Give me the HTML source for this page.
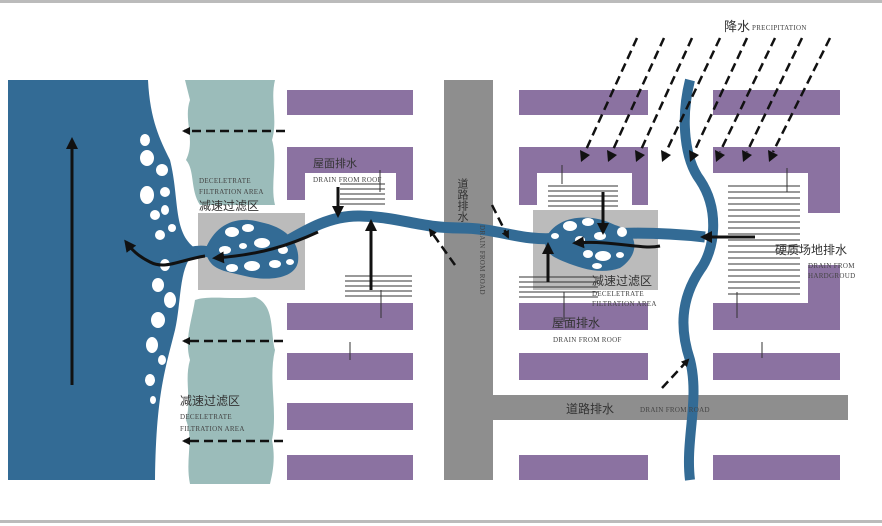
<!DOCTYPE html>
<html><head><meta charset="utf-8"><style>
html,body{margin:0;padding:0;background:#fff;}
svg{display:block;}
text{font-family:"Liberation Serif","Noto Sans CJK SC",serif;}
.cn{font-family:"Liberation Sans","Noto Sans CJK SC",sans-serif;fill:#333;}
.en{font-size:7px;fill:#444;letter-spacing:0.3px;}
</style></head><body>
<svg width="882" height="526" viewBox="0 0 882 526" xmlns="http://www.w3.org/2000/svg">
<defs>
<marker id="ah" markerWidth="8" markerHeight="8" refX="6" refY="4" orient="auto" markerUnits="userSpaceOnUse"><path d="M0,0 L8,4 L0,8 Z" fill="#111"/></marker>
<marker id="ah2" markerWidth="12" markerHeight="12" refX="9" refY="6" orient="auto" markerUnits="userSpaceOnUse"><path d="M0,0 L12,6 L0,12 Z" fill="#111"/></marker>
<polygon id="rh" points="0,0 9,-7 -1,-12" fill="#111"/>
</defs>
<rect x="0" y="0" width="882" height="3" fill="#bbb"/>
<rect x="0" y="520" width="882" height="3" fill="#bbb"/>

<!-- sea -->
<path d="M8,80 H148 C150,120 160,140 170,160 C180,200 172,235 198,250 C178,262 182,300 175,330 C165,370 156,395 155,480 H8 Z" fill="#336b95"/>
<g fill="#fff">
<ellipse cx="145" cy="140" rx="5" ry="6"/><ellipse cx="147" cy="158" rx="7" ry="8"/><ellipse cx="162" cy="170" rx="6" ry="6"/>
<ellipse cx="147" cy="195" rx="7" ry="9"/><ellipse cx="165" cy="192" rx="5" ry="5"/><ellipse cx="155" cy="215" rx="5" ry="5"/>
<ellipse cx="165" cy="210" rx="4" ry="5"/><ellipse cx="160" cy="235" rx="5" ry="5"/><ellipse cx="172" cy="228" rx="4" ry="4"/>
<ellipse cx="165" cy="265" rx="5" ry="6"/><ellipse cx="158" cy="285" rx="6" ry="7"/><ellipse cx="170" cy="300" rx="6" ry="8"/>
<ellipse cx="158" cy="320" rx="7" ry="8"/><ellipse cx="152" cy="345" rx="6" ry="8"/><ellipse cx="162" cy="360" rx="4" ry="5"/>
<ellipse cx="150" cy="380" rx="5" ry="6"/><ellipse cx="153" cy="400" rx="3" ry="4"/>
</g>

<!-- teal filter areas -->
<path d="M185,80 H275 C270,100 278,120 272,140 C278,160 270,185 275,205 H200 C190,190 195,170 186,160 C196,140 183,120 190,100 Z" fill="#9bbcba"/>
<path d="M195,300 C210,295 230,300 255,297 C275,305 270,330 275,350 C268,380 278,410 272,440 C276,460 272,475 270,484 H190 C185,460 194,440 186,420 C192,400 184,380 190,360 C184,340 192,320 195,300 Z" fill="#9bbcba"/>

<!-- grey filter boxes -->
<rect x="198" y="213" width="107" height="77" fill="#bbbbbb"/>
<rect x="533" y="210" width="125" height="80" fill="#bbbbbb"/>

<!-- roads -->
<path d="M444,80 H493 V395 H848 V420 H493 V480 H444 Z" fill="#8e8e8e"/>

<!-- purple buildings -->
<g fill="#8b72a1">
<rect x="287" y="90" width="126" height="25"/>
<path d="M287,147 H413 V200 H396 V173 H305 V200 H287 Z"/>
<rect x="287" y="303" width="126" height="27"/>
<rect x="287" y="353" width="126" height="27"/>
<rect x="287" y="403" width="126" height="27"/>
<rect x="287" y="455" width="126" height="25"/>
<rect x="519" y="90" width="129" height="25"/>
<path d="M519,147 H648 V205 H632 V173 H537 V205 H519 Z"/>
<rect x="519" y="303" width="129" height="27"/>
<rect x="519" y="353" width="129" height="27"/>
<rect x="519" y="455" width="129" height="25"/>
<rect x="713" y="90" width="127" height="25"/>
<path d="M713,147 H840 V213 H808 V173 H713 Z"/>
<path d="M808,265 H840 V330 H713 V303 H808 Z"/>
<rect x="713" y="353" width="127" height="27"/>
<rect x="713" y="455" width="127" height="25"/>
</g>

<!-- hatch lines -->
<g stroke="#333" stroke-width="1">
<path d="M340,184H385M340,189H385M340,194H385M340,199H385M340,204H385"/>
<path d="M345,276H412M345,281H412M345,286H412M345,291H412M345,296H412"/>
<path d="M548,186H618M548,191H618M548,196H618M548,201H618M548,206H618"/>
<path d="M519,277H598M519,282H598M519,287H598M519,292H598M519,297H598"/>
<path d="M728,186H800M728,192H800M728,198H800M728,204H800M728,210H800M728,216H800M728,222H800M728,228H800M728,234H800M728,240H800M728,246H800M728,252H800M728,258H800M728,264H800M728,270H800M728,276H800M728,282H800M728,288H800M728,294H800"/>
</g>
<g stroke="#333" stroke-width="1">
<path d="M380,170V192M381,290V318M350,360V342M562,165V184M564,292V322M787,168V192M737,292V318M762,358V342"/>
</g>

<!-- rivers -->
<path d="M690,80 C680,120 685,160 700,180 C720,210 715,250 700,270 C680,300 680,330 690,360 C700,400 685,440 690,480" fill="none" stroke="#336b95" stroke-width="10"/>
<path d="M180,256 C215,240 230,270 260,256 S320,215 360,216 S420,228 460,228 S520,242 560,238 S640,230 705,237" fill="none" stroke="#336b95" stroke-width="11"/>
<path d="M205,250 C215,225 235,215 260,222 C290,228 300,245 298,262 C295,278 270,282 245,276 C220,270 210,270 205,250 Z" fill="#336b95"/>
<path d="M545,240 C555,215 590,212 615,225 C640,232 640,255 620,268 C600,275 580,268 565,262 C550,256 545,252 545,240 Z" fill="#336b95"/>
<g fill="#fff">
<ellipse cx="232" cy="232" rx="7" ry="5"/><ellipse cx="248" cy="228" rx="6" ry="4"/><ellipse cx="262" cy="243" rx="8" ry="5"/>
<ellipse cx="225" cy="250" rx="6" ry="4"/><ellipse cx="243" cy="246" rx="4" ry="3"/><ellipse cx="283" cy="250" rx="5" ry="4"/>
<ellipse cx="232" cy="268" rx="6" ry="4"/><ellipse cx="252" cy="266" rx="8" ry="5"/><ellipse cx="275" cy="264" rx="6" ry="4"/><ellipse cx="290" cy="262" rx="4" ry="3"/>
<ellipse cx="570" cy="226" rx="7" ry="5"/><ellipse cx="588" cy="222" rx="6" ry="4"/><ellipse cx="555" cy="236" rx="4" ry="3"/>
<ellipse cx="600" cy="236" rx="6" ry="4"/><ellipse cx="622" cy="232" rx="5" ry="5"/><ellipse cx="580" cy="240" rx="5" ry="4"/>
<ellipse cx="588" cy="254" rx="5" ry="4"/><ellipse cx="603" cy="256" rx="8" ry="5"/><ellipse cx="620" cy="255" rx="4" ry="3"/><ellipse cx="597" cy="266" rx="5" ry="3"/>
</g>

<!-- black arrows -->
<g stroke="#111" stroke-width="3" fill="none">
<path d="M72,385 V140" marker-end="url(#ah2)"/>
<path d="M205,256 C180,260 165,270 150,262 C138,256 132,250 126,242" marker-end="url(#ah2)"/>
<path d="M318,232 C290,245 260,255 215,258" marker-end="url(#ah2)"/>
<path d="M338,187 V215" marker-end="url(#ah2)"/>
<path d="M371,290 V222" marker-end="url(#ah2)"/>
<path d="M603,192 V232" marker-end="url(#ah2)"/>
<path d="M548,282 V245" marker-end="url(#ah2)"/>
<path d="M660,246 C640,250 615,240 575,243" marker-end="url(#ah2)"/>
<path d="M755,237 H703" marker-end="url(#ah2)"/>
</g>
<!-- dashed arrows -->
<g stroke="#111" stroke-width="2.5" stroke-dasharray="9,5" fill="none">
<path d="M285,131 H184" marker-end="url(#ah)"/>
<path d="M283,341 H184" marker-end="url(#ah)"/>
<path d="M283,441 H184" marker-end="url(#ah)"/>
<path d="M455,265 L430,230" marker-end="url(#ah)"/>
<path d="M492,205 L508,237" marker-end="url(#ah)"/>
<path d="M662,388 L688,360" marker-end="url(#ah)"/>
<path d="M637,38 L585,152"/>
<path d="M664,38 L612,152"/>
<path d="M692,38 L640,152"/>
<path d="M720,38 L666,152"/>
<path d="M747,38 L694,152"/>
<path d="M775,38 L720,152"/>
<path d="M802,38 L747,152"/>
<path d="M830,38 L773,152"/>
</g>
<use href="#rh" x="581" y="162"/><use href="#rh" x="608" y="162"/><use href="#rh" x="636" y="162"/><use href="#rh" x="662" y="162"/>
<use href="#rh" x="690" y="162"/><use href="#rh" x="716" y="162"/><use href="#rh" x="743" y="162"/><use href="#rh" x="769" y="162"/>

<!-- labels -->
<text x="724" y="31" class="cn" font-size="13">降水</text><text x="752" y="30" class="en">PRECIPITATION</text>
<text x="313" y="167" class="cn" font-size="11">屋面排水</text>
<text x="313" y="182" class="en">DRAIN FROM ROOF</text>
<text x="199" y="183" class="en">DECELETRATE</text>
<text x="199" y="194" class="en">FILTRATION AREA</text>
<text x="199" y="210" class="cn" font-size="12">减速过滤区</text>
<text x="462" y="178" class="cn" font-size="11" writing-mode="tb">道路排水</text>
<text transform="translate(480,225) rotate(90)" class="en">DRAIN FROM ROAD</text>
<text x="775" y="254" class="cn" font-size="12">硬质场地排水</text>
<text x="808" y="268" class="en">DRAIN FROM</text>
<text x="808" y="278" class="en">HARDGROUD</text>
<text x="592" y="285" class="cn" font-size="12">减速过滤区</text>
<text x="592" y="296" class="en">DECELETRATE</text>
<text x="592" y="306" class="en">FILTRATION AREA</text>
<text x="552" y="327" class="cn" font-size="12">屋面排水</text>
<text x="553" y="342" class="en">DRAIN FROM ROOF</text>
<text x="566" y="413" class="cn" font-size="12">道路排水</text>
<text x="640" y="412" class="en">DRAIN FROM ROAD</text>
<text x="180" y="405" class="cn" font-size="12">减速过滤区</text>
<text x="180" y="419" class="en">DECELETRATE</text>
<text x="180" y="431" class="en">FILTRATION AREA</text>
</svg>
</body></html>
